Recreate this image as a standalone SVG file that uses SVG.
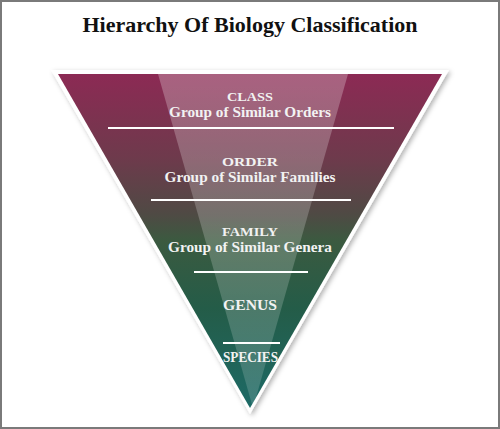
<svg xmlns="http://www.w3.org/2000/svg" width="500" height="429" viewBox="0 0 500 429">
  <defs>
    <linearGradient id="fillGrad" x1="0" y1="74" x2="0" y2="408" gradientUnits="userSpaceOnUse">
      <stop offset="0" stop-color="#8c2a54"/>
      <stop offset="0.25" stop-color="#6e3a4c"/>
      <stop offset="0.42" stop-color="#4f4a44"/>
      <stop offset="0.5" stop-color="#3b5a40"/>
      <stop offset="0.7" stop-color="#245c48"/>
      <stop offset="1" stop-color="#1d6a66"/>
    </linearGradient>
    <linearGradient id="beamGrad" x1="0" y1="74" x2="0" y2="408" gradientUnits="userSpaceOnUse">
      <stop offset="0" stop-color="#ffffff" stop-opacity="0.26"/>
      <stop offset="1" stop-color="#ffffff" stop-opacity="0.15"/>
    </linearGradient>
    <filter id="shadow" x="-10%" y="-10%" width="120%" height="120%">
      <feDropShadow dx="2" dy="2" stdDeviation="2.5" flood-color="#000" flood-opacity="0.3"/>
    </filter>
    <clipPath id="triClip">
      <polygon points="58,74 442,74 250,408"/>
    </clipPath>
  </defs>
  <style>
    .title { font-family: "Liberation Serif", "DejaVu Serif", serif; font-weight: bold; font-size: 22px; fill: #111; text-anchor: middle; }
    .lbl { font-family: "Liberation Serif", "DejaVu Serif", serif; font-weight: bold; font-size: 14px; fill: #f2f2f2; text-anchor: middle; }
    .hd { font-family: "Liberation Serif", "DejaVu Serif", serif; font-weight: bold; font-size: 13px; fill: #f2f2f2; text-anchor: middle; }
    .sep { stroke: #ffffff; stroke-width: 2; }
  </style>
  <rect x="0" y="0" width="500" height="429" fill="#ffffff"/>
  <rect x="1" y="1" width="498" height="427" fill="none" stroke="#7a7a7a" stroke-width="2"/>

  <text class="title" x="250" y="32">Hierarchy Of Biology Classification</text>

  <g id="pyramid">
    <polygon points="51,70 449,70 250,414" fill="#ffffff" filter="url(#shadow)"/>
    <polygon points="58,74 442,74 250,408" fill="url(#fillGrad)"/>
    <polygon points="158,74 348,74 253,408" fill="url(#beamGrad)" clip-path="url(#triClip)"/>
  </g>

  <g id="connectors">
    <line class="sep" x1="108" y1="128" x2="394" y2="128"/>
    <line class="sep" x1="151" y1="200" x2="351" y2="200"/>
    <line class="sep" x1="194" y1="272" x2="308" y2="272"/>
    <line class="sep" x1="223" y1="343" x2="280" y2="343"/>
  </g>

  <g id="class">
    <text class="hd" x="250" y="101" textLength="46" lengthAdjust="spacingAndGlyphs">CLASS</text>
    <text class="lbl" x="250" y="117" textLength="162" lengthAdjust="spacingAndGlyphs">Group of Similar Orders</text>
  </g>
  <g id="order">
    <text class="hd" x="250" y="166" textLength="56" lengthAdjust="spacingAndGlyphs">ORDER</text>
    <text class="lbl" x="250" y="182" textLength="171" lengthAdjust="spacingAndGlyphs">Group of Similar Families</text>
  </g>
  <g id="family">
    <text class="hd" x="250" y="236" textLength="56" lengthAdjust="spacingAndGlyphs">FAMILY</text>
    <text class="lbl" x="250" y="252" textLength="164" lengthAdjust="spacingAndGlyphs">Group of Similar Genera</text>
  </g>
  <g id="genus">
    <text class="lbl" x="250" y="310" textLength="54" lengthAdjust="spacingAndGlyphs">GENUS</text>
  </g>
  <g id="species">
    <text class="lbl" x="250.5" y="362" font-size="12" textLength="55" lengthAdjust="spacingAndGlyphs">SPECIES</text>
  </g>
</svg>
